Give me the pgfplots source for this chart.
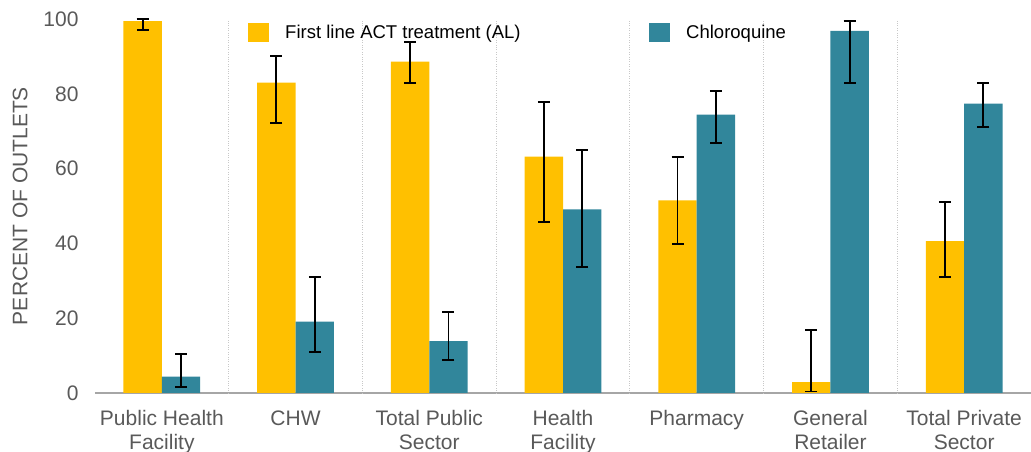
\documentclass[border=0pt]{standalone}
\usepackage{fontspec}
\setmainfont{Liberation Sans}
\usepackage{pgfplots}
\pgfplotsset{compat=1.18}
\usepackage{pgfplotstable}
\definecolor{alc}{HTML}{FFC000}
\definecolor{cqc}{HTML}{31869B}
\definecolor{txt}{HTML}{595959}
\definecolor{axc}{HTML}{A6A6A6}
\definecolor{grd}{HTML}{C8C8C8}

\pgfplotstableread{
x al alp alm cq cqp cqm
0 99.4 0.6 2.3 4.4 6.1 2.7
1 83.0 7.1 10.8 19.1 11.8 8.1
2 88.6 5.3 5.8 13.9 7.7 5.1
3 63.2 14.5 17.5 49.1 15.8 15.4
4 51.5 11.6 11.7 74.4 6.4 7.6
5 2.9 13.9 2.5 96.8 2.6 13.9
6 40.6 10.5 9.6 77.4 5.6 6.3
}\data

\begin{document}
\begin{tikzpicture}
\begin{axis}[
  scale only axis, width=936pt, height=374pt,
  xmin=-0.5, xmax=6.5, ymin=0, ymax=100,
  clip=false,
  separate axis lines,
  axis x line*=bottom, axis y line*=left,
  y axis line style={draw=none},
  x axis line style={draw=axc, line width=1.5pt, -},
  major tick length=0pt,
  xtick={0,...,6},
  xticklabels={{Public Health\\Facility},{CHW},{Total Public\\Sector},{Health\\Facility},{Pharmacy},{General\\Retailer},{Total Private\\Sector}},
  xticklabel style={align=center, text=txt, font=\fontsize{21}{23.5}\selectfont, anchor=north, yshift=-14pt},
  ytick={0,20,...,100},
  /pgf/number format/assume math mode=true,
  yticklabel style={text=txt, font=\fontsize{21}{23.5}\selectfont, anchor=east, xshift=-13pt},
  extra x ticks={0.5,1.5,...,5.5},
  extra x tick labels={},
  extra x tick style={grid=major, major grid style={grd, dotted, line width=1pt}},
  ylabel={PERCENT OF OUTLETS},
  every axis y label/.style={at={(axis description cs:-0.0801,0.5)}, rotate=90, anchor=center, text=txt, font=\fontsize{21}{23.5}\selectfont},
  legend columns=2,
  legend style={at={(axis description cs:0.1635,0.9626)}, anchor=west, draw=none, fill=none, inner sep=0pt, font=\fontsize{18.5}{22}\selectfont, text=black,
    /tikz/every odd column/.append style={column sep=14pt}},
  legend image code/.code={\fill[#1] (0pt,-9.5pt) rectangle (21pt,9.5pt);},
]
\addplot[ybar, fill=alc, draw=none, bar width=0.287, bar shift=0pt,
  error bars/.cd, y dir=both, y explicit,
  error bar style={black, line width=1.9pt},
  error mark options={rotate=90, mark size=6pt, line width=1.9pt, black}]
  table[x expr=\thisrow{x}-0.1435, y=al, y error plus=alp, y error minus=alm] {\data};
\addlegendentry{\makebox[362pt][l]{First line ACT treatment (AL)}}
\addplot[ybar, fill=cqc, draw=none, bar width=0.287, bar shift=0pt,
  error bars/.cd, y dir=both, y explicit,
  error bar style={black, line width=1.9pt},
  error mark options={rotate=90, mark size=6pt, line width=1.9pt, black}]
  table[x expr=\thisrow{x}+0.1435, y=cq, y error plus=cqp, y error minus=cqm] {\data};
\addlegendentry{Chloroquine}
\end{axis}
\pgfresetboundingbox
\path[use as bounding box] (-95pt,-59pt) rectangle (936pt,393pt);
\end{tikzpicture}
\end{document}
